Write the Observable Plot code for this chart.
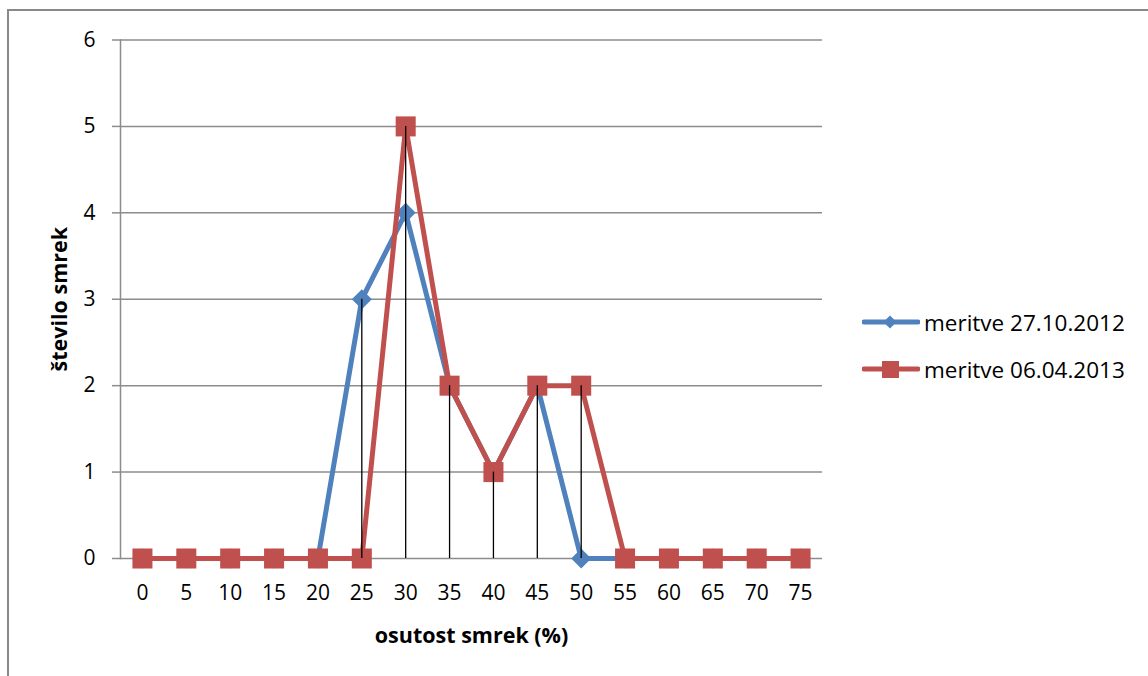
<!DOCTYPE html>
<html>
<head>
<meta charset="utf-8">
<script src="https://cdn.jsdelivr.net/npm/d3@7"></script>
<script src="https://cdn.jsdelivr.net/npm/@observablehq/plot@0.6"></script>
<style>
  html, body { margin: 0; padding: 0; background: #fff; overflow: hidden; }
  #wrap { position: relative; width: 1148px; height: 676px; overflow: hidden; font-family: "Open Sans", Lato, sans-serif; }
  #border { position: absolute; left: 7px; top: 9px; width: 1200px; height: 720px; border: 2px solid #898989; box-sizing: border-box; }
  #chart { position: absolute; left: 0; top: 0; }
  #chart svg g[aria-label$="tick label"] { font-size: 21px; fill: #000; }
  #legend { position: absolute; left: 862px; top: 306px; font-size: 22.5px; color: #000; }
  .item { display: flex; align-items: center; height: 32px; margin-bottom: 15px; }
  .item svg { margin-right: 4px; }
</style>
</head>
<body>
<div id="wrap">
  <div id="border"></div>
  <div id="chart"></div>
  <div id="legend"></div>
</div>
<script>
const categories = [0, 5, 10, 15, 20, 25, 30, 35, 40, 45, 50, 55, 60, 65, 70, 75];
const seriesNames = ["meritve 27.10.2012", "meritve 06.04.2013"];
const series1 = [0, 0, 0, 0, 0, 3, 4, 2, 1, 2, 0, 0, 0, 0, 0, 0];
const series2 = [0, 0, 0, 0, 0, 0, 5, 2, 1, 2, 2, 0, 0, 0, 0, 0];
const yTicks = [0, 1, 2, 3, 4, 5, 6];
const xTitle = "osutost smrek (%)";
const yTitle = "število smrek";
const colors = ["#4F81BD", "#C0504D"];

const d1 = categories.map((c, i) => ({cat: c, value: series1[i]}));
const d2 = categories.map((c, i) => ({cat: c, value: series2[i]}));
const drops = categories.map((c, i) => ({cat: c, value: Math.max(series1[i], series2[i])})).filter(d => d.value > 0);

const font = "'Open Sans', Lato, sans-serif";
// category axis: each category occupies one band, labels at band centres
const step = categories[1] - categories[0];
const xDomain = [categories[0] - step / 2, categories[categories.length - 1] + step / 2];

const plot = Plot.plot({
  width: 1148,
  height: 676,
  marginLeft: 120,
  marginRight: 326,
  marginTop: 39.5,
  marginBottom: 118,
  style: {fontFamily: font, fontSize: "21px", color: "#000", background: "transparent"},
  x: {type: "linear", domain: xDomain},
  y: {domain: [0, 6]},
  marks: [
    Plot.gridY(yTicks, {stroke: "#8c8c8c", strokeOpacity: 1, strokeWidth: 1.5}),
    Plot.frame({anchor: "left", stroke: "#8c8c8c", strokeWidth: 1.5}),
    Plot.axisY(yTicks, {tickSize: 8, tickPadding: 17, stroke: "#8c8c8c", strokeWidth: 1.5, label: null, tickFormat: d3.format("d")}),
    Plot.axisX(categories, {tickSize: 0, tickPadding: 27, label: null, tickFormat: d3.format("d")}),
    Plot.line(d1, {x: "cat", y: "value", stroke: colors[0], strokeWidth: 5}),
    Plot.dot(d1, {x: "cat", y: "value", symbol: "diamond2", r: 9, fill: colors[0]}),
    Plot.line(d2, {x: "cat", y: "value", stroke: colors[1], strokeWidth: 5}),
    Plot.dot(d2, {x: "cat", y: "value", symbol: "square", r: 11.3, fill: colors[1]}),
    Plot.ruleX(drops, {x: "cat", y1: 0, y2: "value", stroke: "#000", strokeWidth: 1.3}),
    Plot.text([xTitle], {frameAnchor: "bottom", dy: 78, fontWeight: "bold", fontSize: 21.5, textAnchor: "middle", lineAnchor: "middle", fill: "#000"}),
    Plot.text([yTitle], {frameAnchor: "left", dx: -60, rotate: -90, fontWeight: "bold", fontSize: 21.5, textAnchor: "middle", lineAnchor: "middle", fill: "#000"})
  ]
});
document.getElementById("chart").appendChild(plot);

// legend
const legend = d3.select("#legend");
seriesNames.forEach((name, i) => {
  const item = legend.append("div").attr("class", "item");
  const s = item.append("svg").attr("width", 58).attr("height", 32);
  s.append("line").attr("x1", 2).attr("x2", 56).attr("y1", 16).attr("y2", 16)
    .attr("stroke", colors[i]).attr("stroke-width", 5).attr("stroke-linecap", "round");
  if (i === 0) {
    s.append("path").attr("d", d3.symbol(d3.symbolDiamond2, 110)()).attr("transform", "translate(28,16)").attr("fill", colors[i]);
  } else {
    s.append("rect").attr("x", 20).attr("y", 8).attr("width", 17).attr("height", 17).attr("fill", colors[i]);
  }
  item.append("span").text(name);
});
</script>
</body>
</html>
